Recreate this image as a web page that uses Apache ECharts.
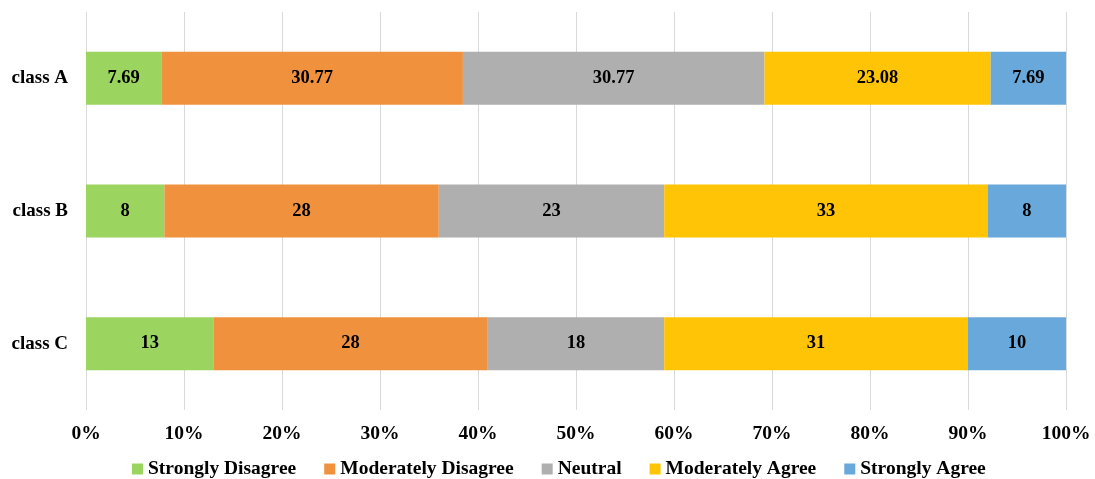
<!DOCTYPE html>
<html>
<head>
<meta charset="utf-8">
<script src="https://cdn.jsdelivr.net/npm/echarts@6/dist/echarts.min.js"></script>
<style>
  html, body { margin: 0; padding: 0; background: #fff; }
  #chart { width: 1095px; height: 479px; }
</style>
</head>
<body>
<div id="chart"></div>
<script>
// Survey responses per class, in percent (each row sums to 100)
const categories = ['class A', 'class B', 'class C'];
const seriesNames = ['Strongly Disagree', 'Moderately Disagree', 'Neutral', 'Moderately Agree', 'Strongly Agree'];
const stronglyDisagree = [7.69, 8, 13];
const moderatelyDisagree = [30.77, 28, 28];
const neutral = [30.77, 23, 18];
const moderatelyAgree = [23.08, 33, 31];
const stronglyAgree = [7.69, 8, 10];
const tickLabels = ['0%', '10%', '20%', '30%', '40%', '50%', '60%', '70%', '80%', '90%', '100%'];

const values = [stronglyDisagree, moderatelyDisagree, neutral, moderatelyAgree, stronglyAgree];
const colors = ['#9BD45E', '#F0913D', '#AFAFAF', '#FFC405', '#69A8DA'];
const serif = '"Liberation Serif", "Times New Roman", serif';

const chart = echarts.init(document.getElementById('chart'), null, { renderer: 'canvas' });

chart.setOption({
  animation: false,
  backgroundColor: '#ffffff',
  textStyle: { fontFamily: serif },
  grid: { left: 86, right: 29, top: 12, bottom: 69, containLabel: false },
  legend: {
    top: 454,
    left: 127,
    padding: 5,
    itemWidth: 11,
    itemHeight: 11,
    itemGap: 28,
    icon: 'rect',
    textStyle: { fontFamily: serif, fontWeight: 'bold', fontSize: 19.5, color: '#000' },
    data: seriesNames
  },
  xAxis: {
    type: 'value',
    min: 0,
    max: 100,
    interval: 10,
    axisLine: { show: false },
    axisTick: { show: false },
    splitLine: { show: true, lineStyle: { color: '#D9D9D9', width: 1 } },
    axisLabel: {
      margin: 14,
      fontFamily: serif,
      fontWeight: 'bold',
      fontSize: 19.5,
      color: '#000',
      formatter: function (v) { return tickLabels[Math.round(v / 10)]; }
    }
  },
  yAxis: {
    type: 'category',
    inverse: true,
    data: categories,
    axisLine: { show: false },
    axisTick: { show: false },
    axisLabel: {
      margin: 18,
      fontFamily: serif,
      fontWeight: 'bold',
      fontSize: 19,
      color: '#000'
    }
  },
  series: seriesNames.map(function (name, i) {
    return {
      name: name,
      type: 'bar',
      stack: 'total',
      barWidth: 53,
      itemStyle: { color: colors[i] },
      label: {
        show: true,
        position: 'inside',
        fontFamily: serif,
        fontWeight: 'bold',
        fontSize: 18.5,
        color: '#000',
        formatter: function (p) { return String(p.value); }
      },
      data: values[i]
    };
  })
});
</script>
</body>
</html>
